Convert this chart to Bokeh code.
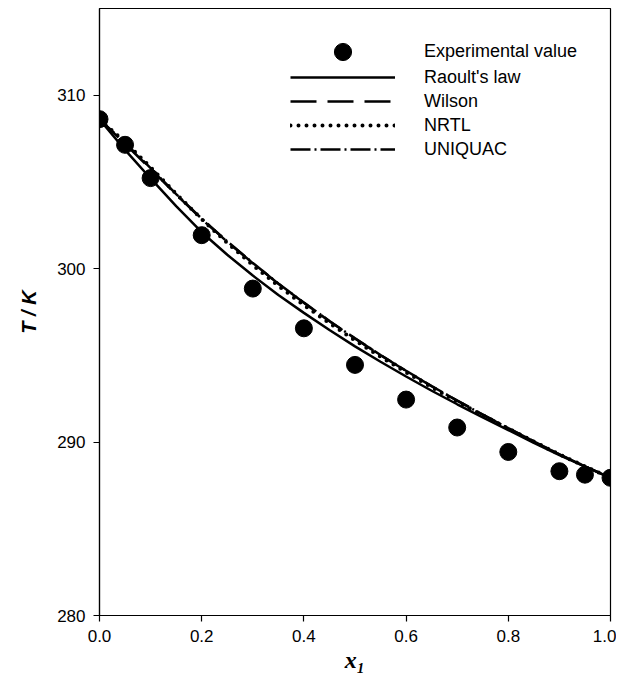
from bokeh.plotting import figure
from bokeh.models import Legend, LegendItem, FixedTicker, PrintfTickFormatter, Range1d
from bokeh.embed import file_html
from bokeh.resources import INLINE

# Experimental data
x_exp = [0.0, 0.05, 0.1, 0.2, 0.3, 0.4, 0.5, 0.6, 0.7, 0.8, 0.9, 0.95, 1.0]
T_exp = [308.62, 307.14, 305.22, 301.93, 298.85, 296.56, 294.45, 292.45, 290.84, 289.43, 288.32, 288.12, 287.94]

# Model curves
x_calc = [0.0, 0.05, 0.10, 0.15, 0.20, 0.25, 0.30, 0.35, 0.40, 0.45, 0.50,
          0.55, 0.60, 0.65, 0.70, 0.75, 0.80, 0.85, 0.90, 0.95, 1.00]
T_raoult = [308.60, 306.85, 305.20, 303.60, 302.10, 300.80, 299.60, 298.48, 297.45, 296.46, 295.52,
            294.63, 293.78, 292.96, 292.18, 291.43, 290.69, 289.96, 289.25, 288.58, 287.94]
T_wilson = [308.60, 307.20, 305.75, 304.27, 302.85, 301.55, 300.32, 299.13, 298.03, 296.97, 295.97,
            295.01, 294.10, 293.22, 292.39, 291.58, 290.80, 290.04, 289.29, 288.60, 287.94]
T_nrtl = [308.60, 307.30, 305.85, 304.32, 302.85, 301.48, 300.20, 299.00, 297.90, 296.85, 295.86,
          294.92, 294.02, 293.16, 292.34, 291.55, 290.78, 290.03, 289.29, 288.60, 287.94]
T_uniquac = [308.60, 307.25, 305.80, 304.30, 302.88, 301.57, 300.33, 299.14, 298.04, 296.98, 295.98,
             295.02, 294.11, 293.23, 292.39, 291.58, 290.80, 290.04, 289.29, 288.60, 287.94]

x_ticks = [0.0, 0.2, 0.4, 0.6, 0.8, 1.0]
y_ticks = [280, 290, 300, 310]

FONT = "Liberation Sans"
FH = 607

p = figure(frame_width=511, frame_height=FH, output_backend="svg", toolbar_location=None,
           x_range=Range1d(0, 1.0), y_range=Range1d(280, 315),
           min_border_left=99, min_border_right=6, min_border_top=8, min_border_bottom=60)
p.grid.visible = False
p.background_fill_color = "white"
p.outline_line_color = "black"
p.outline_line_width = 1.2
p.outline_line_alpha = 1.0

r_raoult = p.line(x_calc, T_raoult, line_color="black", line_width=2.5)
r_wilson = p.line(x_calc, T_wilson, line_color="black", line_width=2.5, line_dash="26 11")
r_nrtl = p.line(x_calc, T_nrtl, line_color="black", line_width=4, line_dash="0 8", line_cap="round")
r_uniq = p.line(x_calc, T_uniquac, line_color="black", line_width=2.5, line_dash="20 4 2 4")
r_exp = p.scatter(x_exp, T_exp, size=17, marker="circle", fill_color="black", line_color="black")

for ax in (p.xaxis[0], p.yaxis[0]):
    ax.axis_line_color = "black"
    ax.axis_line_width = 1.2
    ax.major_tick_line_color = "black"
    ax.major_tick_line_width = 1.2
    ax.major_tick_out = 6
    ax.major_tick_in = 0
    ax.minor_tick_line_color = None
    ax.major_label_text_font = FONT
    ax.major_label_text_font_size = "17px"
    ax.major_label_text_color = "black"
    ax.major_label_standoff = 8

p.xaxis.ticker = FixedTicker(ticks=x_ticks)
p.xaxis.formatter = PrintfTickFormatter(format="%.1f")
p.yaxis.ticker = FixedTicker(ticks=y_ticks)
p.yaxis.formatter = PrintfTickFormatter(format="%d")

p.yaxis.axis_label = "T / K"
p.yaxis.axis_label_text_font = FONT
p.yaxis.axis_label_text_font_style = "bold italic"
p.yaxis.axis_label_text_font_size = "20px"
p.yaxis.axis_label_text_color = "black"
p.yaxis.axis_label_standoff = 14

p.xaxis.axis_label = "x\u2081"
p.xaxis.axis_label_text_font = "Liberation Serif"
p.xaxis.axis_label_text_font_style = "bold italic"
p.xaxis.axis_label_text_font_size = "24px"
p.xaxis.axis_label_text_color = "black"
p.xaxis.axis_label_standoff = 2


def style_legend(lg, h):
    lg.background_fill_alpha = 0
    lg.border_line_color = None
    lg.padding = 0
    lg.margin = 0
    lg.spacing = 0
    lg.glyph_width = 105
    lg.glyph_height = h
    lg.label_height = h
    lg.label_standoff = 29
    lg.label_text_font = FONT
    lg.label_text_font_size = "18px"
    lg.label_text_color = "black"


legend_exp = Legend(items=[LegendItem(label="Experimental value", renderers=[r_exp])],
                    location=(191, FH - 22 - 43))
style_legend(legend_exp, 43)
legend_lines = Legend(items=[
    LegendItem(label="Raoult's law", renderers=[r_raoult]),
    LegendItem(label="Wilson", renderers=[r_wilson]),
    LegendItem(label="NRTL", renderers=[r_nrtl]),
    LegendItem(label="UNIQUAC", renderers=[r_uniq]),
], location=(191, FH - 57 - 96))
style_legend(legend_lines, 24)
p.add_layout(legend_exp, "center")
p.add_layout(legend_lines, "center")

open("out.html", "w").write(file_html(p, INLINE))
